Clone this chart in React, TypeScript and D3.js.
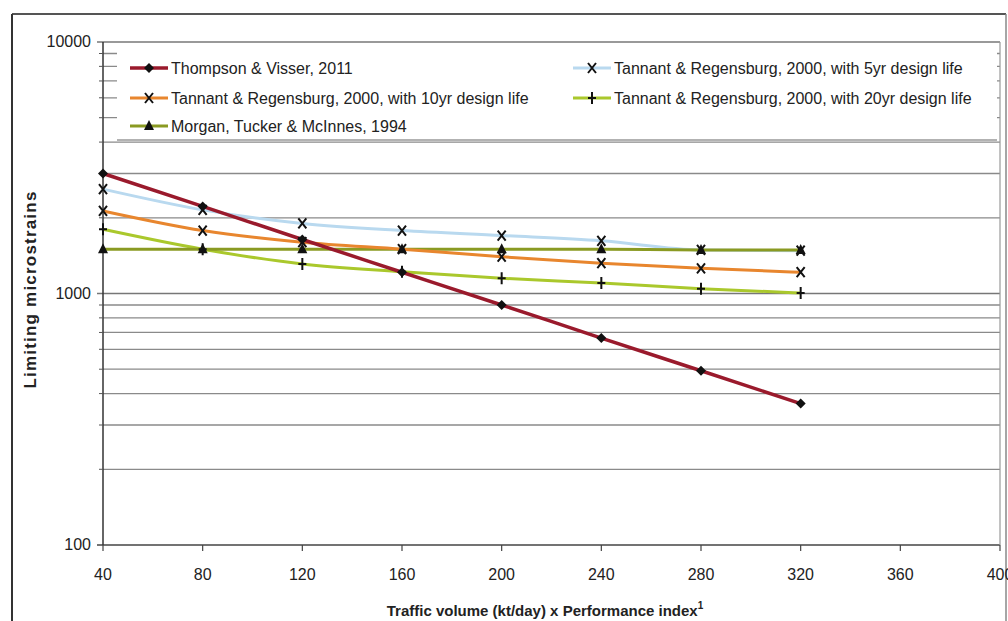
import React from "react";
import * as d3 from "d3";

const xValues = [40, 80, 120, 160, 200, 240, 280, 320];
const thompson = [3000, 2220, 1640, 1215, 900, 665, 493, 365];
const tannant5 = [2600, 2150, 1900, 1780, 1700, 1620, 1490, 1480];
const tannant10 = [2130, 1780, 1600, 1500, 1400, 1320, 1260, 1215];
const tannant20 = [1800, 1500, 1310, 1220, 1150, 1100, 1045, 1005];
const morgan = [1500, 1500, 1500, 1500, 1500, 1500, 1490, 1490];
const xTicks = [40, 80, 120, 160, 200, 240, 280, 320, 360, 400];
const yTickLabels = [100, 1000, 10000];

type Series = { name: string; values: number[]; color: string; marker: string; width: number };
const series: Series[] = [
  { name: "Tannant & Regensburg, 2000, with 5yr design life", values: tannant5, color: "#b9d9ef", marker: "x", width: 3 },
  { name: "Tannant & Regensburg, 2000, with 20yr design life", values: tannant20, color: "#aac82c", marker: "plus", width: 3 },
  { name: "Morgan, Tucker & McInnes, 1994", values: morgan, color: "#8a9a22", marker: "tri", width: 3 },
  { name: "Tannant & Regensburg, 2000, with 10yr design life", values: tannant10, color: "#e8862e", marker: "x", width: 3 },
  { name: "Thompson & Visser, 2011", values: thompson, color: "#9a1a2c", marker: "diamond", width: 3.5 },
];

const FONT = "'Liberation Sans Narrow', 'Liberation Sans', sans-serif";

function Marker({ type, x, y }: { type: string; x: number; y: number }) {
  const c = "#111";
  if (type === "diamond") return <path d={`M${x},${y - 5}L${x + 5},${y}L${x},${y + 5}L${x - 5},${y}Z`} fill={c} />;
  if (type === "x") return <path d={`M${x - 4},${y - 5}L${x + 4},${y + 5}M${x + 4},${y - 5}L${x - 4},${y + 5}`} stroke={c} strokeWidth={2} />;
  if (type === "plus") return <path d={`M${x - 4},${y}L${x + 4},${y}M${x},${y - 6}L${x},${y + 6}`} stroke={c} strokeWidth={2} />;
  if (type === "tri") return <path d={`M${x},${y - 6}L${x + 5},${y + 4}L${x - 5},${y + 4}Z`} fill={c} />;
  return null;
}

export default function App() {
  const W = 1008, H = 621;
  const left = 103, right = 1000, top = 42, bottom = 545;
  const x = d3.scaleLinear().domain([40, 400]).range([left, right]);
  const y = d3.scaleLog().domain([100, 10000]).range([bottom, top]);
  const gridVals: number[] = [];
  for (const dec of [100, 1000]) for (let k = 2; k <= 9; k++) gridVals.push(dec * k);
  const line = d3.line<number>().x((_, i) => x(xValues[i])).y((v) => y(v)).curve(d3.curveMonotoneX);

  const legendItems = [
    { s: series[4], lx: 130, ly: 68 },
    { s: series[0], lx: 573, ly: 68 },
    { s: series[3], lx: 130, ly: 98 },
    { s: series[1], lx: 573, ly: 98 },
    { s: series[2], lx: 130, ly: 126 },
  ];

  return (
    <svg width={W} height={H} style={{ position: "absolute", left: 0, top: 0, background: "#fff" }} fontFamily={FONT}>
      <rect x={0} y={0} width={W} height={H} fill="#fff" />
      <line x1={12} y1={14} x2={1006} y2={14} stroke="#555" strokeWidth={2} />
      <line x1={12} y1={14} x2={12} y2={621} stroke="#333" strokeWidth={2} />
      <line x1={1006} y1={14} x2={1006} y2={621} stroke="#888" strokeWidth={1.5} />
      {gridVals.map((v) => (
        <line key={v} x1={left} x2={right} y1={y(v)} y2={y(v)} stroke="#8a8a8a" strokeWidth={1.3} />
      ))}
      {yTickLabels.map((v) => (
        <line key={"g" + v} x1={left - 6} x2={right} y1={y(v)} y2={y(v)} stroke={v === 100 ? "#444" : "#777"} strokeWidth={1.5} />
      ))}
      <line x1={right} x2={right} y1={top} y2={bottom} stroke="#999" strokeWidth={1.2} />
      <line x1={left} x2={left} y1={top} y2={bottom} stroke="#333" strokeWidth={1.5} />
      {gridVals.map((v) => (
        <line key={"t" + v} x1={left - 4} x2={left} y1={y(v)} y2={y(v)} stroke="#555" strokeWidth={1} />
      ))}
      {xTicks.map((t) => (
        <g key={t}>
          <line x1={x(t)} x2={x(t)} y1={bottom} y2={bottom + 6} stroke="#444" strokeWidth={1.2} />
          <text x={x(t)} y={bottom + 35} textAnchor="middle" fontSize={16} fill="#222">{t}</text>
        </g>
      ))}
      {yTickLabels.map((v) => (
        <text key={v} x={left - 12} y={y(v) + 5} textAnchor="end" fontSize={16} fill="#222">{v}</text>
      ))}
      <rect x={117} y={44} width={880} height={95} fill="#fff" />
      <line x1={117} x2={997} y1={140} y2={140} stroke="#999" strokeWidth={1.3} />
      {series.map((s) => (
        <path key={s.name} d={line(s.values) || ""} fill="none" stroke={s.color} strokeWidth={s.width} />
      ))}
      {series.map((s) =>
        s.values.map((v, i) => <Marker key={s.name + i} type={s.marker} x={x(xValues[i])} y={y(v)} />)
      )}
      {legendItems.map(({ s, lx, ly }) => (
        <g key={s.name}>
          <line x1={lx} x2={lx + 38} y1={ly} y2={ly} stroke={s.color} strokeWidth={s.width} />
          <Marker type={s.marker} x={lx + 19} y={ly} />
          <text x={lx + 41} y={ly + 6} fontSize={16} fill="#222">{s.name}</text>
        </g>
      ))}
      <text transform={`translate(36,${(top + bottom) / 2 - 4}) rotate(-90)`} textAnchor="middle" fontSize={17} fontWeight="bold" letterSpacing={1.2} fill="#222">
        Limiting microstrains
      </text>
      <text x={545} y={616} textAnchor="middle" fontSize={15} fontWeight="bold" fill="#222">
        Traffic volume (kt/day) x Performance index<tspan fontSize={10} dy={-7}>1</tspan>
      </text>
    </svg>
  );
}
